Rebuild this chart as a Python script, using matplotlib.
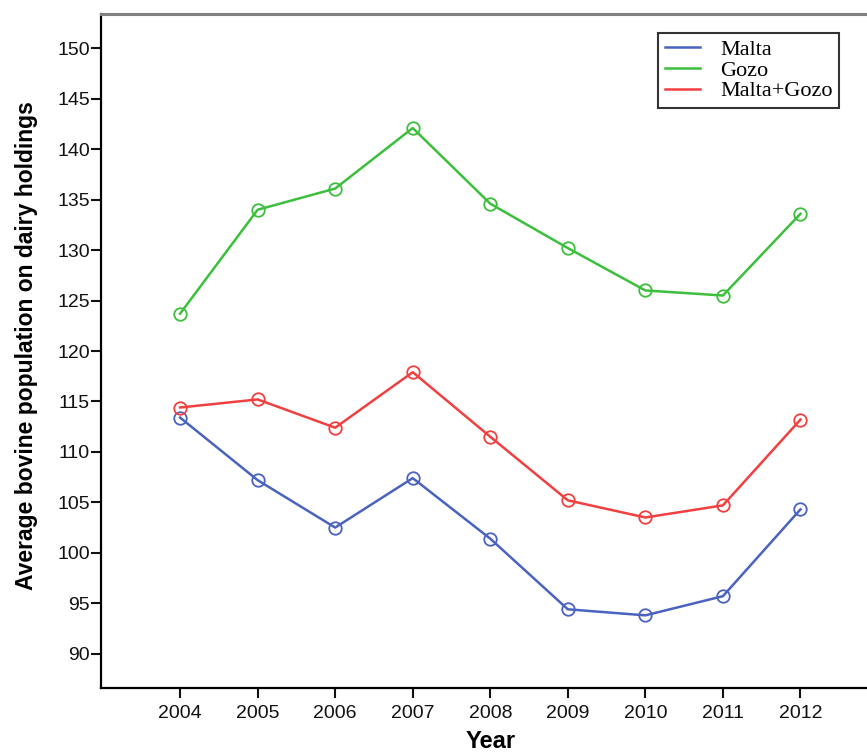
import matplotlib
matplotlib.use("Agg")
import matplotlib.pyplot as plt

years = [2004, 2005, 2006, 2007, 2008, 2009, 2010, 2011, 2012]
malta = [113.4, 107.2, 102.5, 107.4, 101.4, 94.4, 93.8, 95.7, 104.3]
gozo = [123.7, 134.0, 136.1, 142.1, 134.6, 130.2, 126.0, 125.5, 133.6]
malta_gozo = [114.4, 115.2, 112.4, 117.9, 111.5, 105.2, 103.5, 104.7, 113.2]
series_names = ["Malta", "Gozo", "Malta+Gozo"]
colors = ["#4a63c0", "#3cbf3c", "#f24040"]
yticks = [90, 95, 100, 105, 110, 115, 120, 125, 130, 135, 140, 145, 150]

W, H = 867, 754
fig = plt.figure(figsize=(W/100, H/100), dpi=100)
ax = fig.add_axes([101/W, 1-688/H, (878-101)/W, (688-14)/H])

for vals, name, c in zip([malta, gozo, malta_gozo], series_names, colors):
    ax.plot(years, vals, color=c, lw=1.8, label=name)
    ax.plot(years, vals, ls="none", marker="o", ms=9, mfc="none", mec=c, mew=1.3)

ax.set_xlim(2002.98, 2013)
ax.set_ylim(86.6, 153.4)
ax.set_xticks(years)
ax.set_yticks(yticks)
ax.set_xticklabels([str(y) for y in years], fontsize=14, family="Liberation Sans")
ax.set_yticklabels([str(y) for y in yticks], fontsize=14, family="Liberation Sans")
ax.tick_params(axis="x", direction="out", length=7, width=1.5, pad=5, colors="#111111")
ax.tick_params(axis="y", direction="out", length=7, width=1.5, pad=1, colors="#111111")

ax.spines["left"].set_linewidth(1.6)
ax.spines["bottom"].set_linewidth(1.6)
ax.spines["top"].set_linewidth(2.2)
ax.spines["top"].set_color("#808080")
ax.spines["right"].set_visible(False)

fig.text(491/W, 1-742/H, "Year", fontsize=17, fontweight="bold", family="Liberation Sans",
         ha="center", va="center")
fig.text(27/W, 1-346/H, "Average bovine population on dairy holdings", fontsize=16.5,
         fontweight="bold", family="Liberation Sans", rotation=90, ha="center", va="center")

leg = ax.legend(loc="upper left", bbox_to_anchor=(658/W, 1-33/H),
                bbox_transform=fig.transFigure,
                prop={"family": "Liberation Serif", "size": 16},
                frameon=True, fancybox=False, edgecolor="black", handlelength=1.6,
                borderpad=0.3, labelspacing=0.0, handletextpad=0.9, borderaxespad=0)
leg.get_frame().set_linewidth(1.5)

fig.savefig("out.png", dpi=100)
